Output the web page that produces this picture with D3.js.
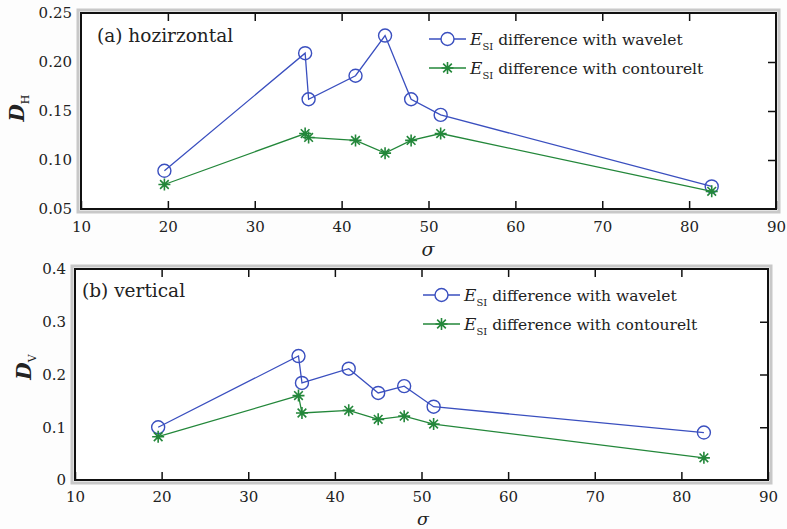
<!DOCTYPE html>
<html>
<head>
<meta charset="utf-8">
<script src="https://cdn.jsdelivr.net/npm/d3@7"></script>
<style>
  body { margin: 0; background: #fdfdfd; }
  svg text { font-family: "DejaVu Serif", "Liberation Serif", serif; fill: #222; }
</style>
</head>
<body>
<div id="chart"></div>
<script>
// sigma values (x) shared by both panels
const sigma = [19.6, 35.8, 36.2, 41.6, 45.0, 48.0, 51.4, 82.6];
// (a) horizontal
const hWavelet = [0.089, 0.209, 0.162, 0.186, 0.227, 0.162, 0.146, 0.073];
const hContourlet = [0.075, 0.127, 0.123, 0.120, 0.107, 0.120, 0.127, 0.068];
// (b) vertical
const vWavelet = [0.100, 0.235, 0.184, 0.211, 0.165, 0.178, 0.139, 0.090];
const vContourlet = [0.082, 0.160, 0.127, 0.132, 0.115, 0.121, 0.106, 0.042];

const xTicks = [10, 20, 30, 40, 50, 60, 70, 80, 90];
const hTicks = [0.05, 0.10, 0.15, 0.20, 0.25];
const vTicks = [0, 0.1, 0.2, 0.3, 0.4];
const legendNames = ["difference with wavelet", "difference with contourelt"];

const blue = "#3a4fbf";
const green = "#23873a";

const width = 787, height = 529;
const svg = d3.select("#chart").append("svg")
    .attr("width", width)
    .attr("height", height);

// asterisk marker like matlab '*'
function starPath(r) {
    const d = r * 0.72;
    return `M${-r},0L${r},0M0,${-r}L0,${r}M${-d},${-d}L${d},${d}M${-d},${d}L${d},${-d}`;
}

function drawPanel(opt) {
    const x = d3.scaleLinear().domain([10, 90]).range([opt.left, opt.right]);
    const y = d3.scaleLinear().domain(opt.yDomain).range([opt.bottom, opt.top]);
    const g = svg.append("g");

    // grey shade round the frame
    g.append("rect")
        .attr("x", opt.left - 3).attr("y", opt.top - 3)
        .attr("width", opt.right - opt.left + 6).attr("height", opt.bottom - opt.top + 6)
        .attr("fill", "none").attr("stroke", "#c8c8c8").attr("stroke-width", 3);
    g.append("rect")
        .attr("x", opt.left).attr("y", opt.top)
        .attr("width", opt.right - opt.left).attr("height", opt.bottom - opt.top)
        .attr("fill", "#ffffff").attr("stroke", "#111").attr("stroke-width", 2);

    // axes, ticks point inward
    const ax = g.append("g").attr("transform", `translate(0,${opt.bottom})`)
        .call(d3.axisBottom(x).tickValues(xTicks).tickSize(-8).tickPadding(opt.xPad));
    ax.selectAll("text").attr("font-size", 15);
    g.append("g").attr("transform", `translate(0,${opt.top})`)
        .call(d3.axisTop(x).tickValues(xTicks.slice(1, -1)).tickSize(-8).tickFormat(""));
    g.append("g").attr("transform", `translate(${opt.right},0)`)
        .call(d3.axisRight(y).tickValues(opt.yTicks.slice(1, -1)).tickSize(-8).tickFormat(""));
    const ay = g.append("g").attr("transform", `translate(${opt.left},0)`)
        .call(d3.axisLeft(y).tickValues(opt.yTicks).tickSize(0).tickPadding(9).tickFormat(opt.fmt));
    ay.selectAll("text").attr("font-size", 15);
    g.selectAll(".domain").remove();
    g.selectAll(".tick line").attr("stroke", "#111").attr("stroke-width", 1.5);
    g.selectAll(".tick text").style("font-family", '"DejaVu Serif", serif').attr("fill", "#222");

    const line = d3.line().x(d => x(d[0])).y(d => y(d[1]));
    const series = [
        { vals: opt.wave, color: blue, mark: "circle" },
        { vals: opt.cont, color: green, mark: "star" }
    ];
    series.forEach(s => {
        const pts = sigma.map((v, i) => [v, s.vals[i]]);
        g.append("path").datum(pts)
            .attr("d", line).attr("fill", "none")
            .attr("stroke", s.color).attr("stroke-width", 1.3);
        if (s.mark === "circle") {
            g.selectAll(null).data(pts).enter().append("circle")
                .attr("cx", d => x(d[0])).attr("cy", d => y(d[1])).attr("r", 6.5)
                .attr("fill", "none").attr("stroke", s.color).attr("stroke-width", 1.4);
        } else {
            g.selectAll(null).data(pts).enter().append("path")
                .attr("d", starPath(6))
                .attr("transform", d => `translate(${x(d[0])},${y(d[1])})`)
                .attr("fill", "none").attr("stroke", s.color).attr("stroke-width", 1.6);
        }
    });

    // panel title
    g.append("text").attr("x", opt.titleX).attr("y", opt.titleY)
        .attr("font-size", 18.5).text(opt.title);

    // legend
    series.forEach((s, i) => {
        const ly = opt.legY + i * 29;
        g.append("line").attr("x1", opt.legX).attr("x2", opt.legX + 37)
            .attr("y1", ly).attr("y2", ly).attr("stroke", s.color).attr("stroke-width", 1.3);
        if (s.mark === "circle") {
            g.append("circle").attr("cx", opt.legX + 18.5).attr("cy", ly).attr("r", 6.5)
                .attr("fill", "#fff").attr("stroke", s.color).attr("stroke-width", 1.4);
        } else {
            g.append("path").attr("d", starPath(6))
                .attr("transform", `translate(${opt.legX + 18.5},${ly})`)
                .attr("fill", "none").attr("stroke", s.color).attr("stroke-width", 1.6);
        }
        const t = g.append("text").attr("x", opt.legX + 41).attr("y", ly + 6).attr("font-size", 15.5);
        t.append("tspan").attr("font-style", "italic").attr("font-size", 17).text("E");
        t.append("tspan").attr("font-size", 10).attr("dy", 5).text("SI");
        t.append("tspan").attr("dy", -5).text(" " + legendNames[i]);
    });

    // y label
    const yl = g.append("text")
        .attr("transform", `translate(${opt.yLabX},${opt.yLabY}) rotate(-90)`)
        .attr("text-anchor", "middle").attr("font-size", 20);
    yl.append("tspan").attr("font-style", "italic").attr("font-weight", "bold").text("D");
    yl.append("tspan").attr("font-size", 11).attr("dy", 5).text(opt.sub);

    // x label
    g.append("text").attr("x", opt.sigX).attr("y", opt.sigY)
        .attr("text-anchor", "middle").attr("font-size", opt.sigSize).attr("font-style", "italic")
        .text("σ");
}

drawPanel({
    left: 81, right: 776, top: 13, bottom: 209, xPad: 12,
    yDomain: [0.05, 0.25], yTicks: hTicks, fmt: d3.format(".2f"),
    wave: hWavelet, cont: hContourlet,
    title: "(a) hozirzontal", titleX: 97, titleY: 42,
    legX: 429, legY: 39, sub: "H", yLabX: 24, yLabY: 108,
    sigX: 428, sigY: 256, sigSize: 19
});

drawPanel({
    left: 75, right: 768, top: 269, bottom: 480, xPad: 11,
    yDomain: [0, 0.4], yTicks: vTicks, fmt: d => d === 0 ? "0" : d3.format(".1f")(d),
    wave: vWavelet, cont: vContourlet,
    title: "(b) vertical", titleX: 82, titleY: 297,
    legX: 423, legY: 295, sub: "V", yLabX: 31, yLabY: 367,
    sigX: 423, sigY: 525, sigSize: 17.5
});
</script>
</body>
</html>
